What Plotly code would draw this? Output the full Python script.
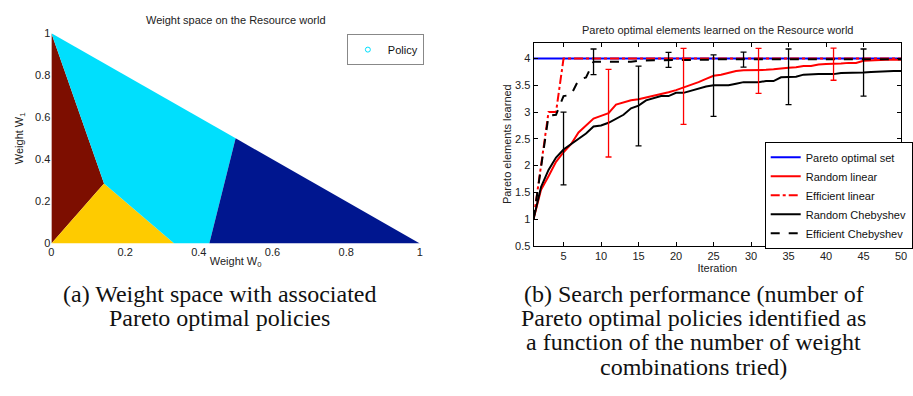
import plotly.graph_objects as go

W, H = 913, 396

# ---- Left panel: weight-space regions (polygons) ----
region_x = [
    [0, 0, 1/7],
    [0, 1/7, 1/3],
    [0, 1/7, 1/3, 3/7, 0.5],
    [3/7, 0.5, 1],
]
region_y = [
    [0, 1, 2/7],
    [0, 2/7, 0],
    [1, 2/7, 0, 0, 0.5],
    [0, 0.5, 0],
]
region_colors = ["#7d0e00", "#fecb00", "#00dffd", "#00168f"]

# ---- Right panel: search performance ----
iters = list(range(1, 51))
pareto_set = [4.0] * 50
random_linear = [1.0, 1.55, 1.80, 2.07, 2.25, 2.40, 2.62, 2.75, 2.88, 2.93,
                 2.98, 3.14, 3.18, 3.22, 3.24, 3.27, 3.30, 3.33, 3.37, 3.41,
                 3.46, 3.50, 3.56, 3.62, 3.68, 3.70, 3.73, 3.77, 3.78, 3.78,
                 3.78, 3.79, 3.80, 3.82, 3.83, 3.84, 3.86, 3.86, 3.89, 3.90,
                 3.90, 3.91, 3.92, 3.92, 3.96, 3.97, 3.98, 3.98, 3.98, 3.98]
efficient_linear = [1.0, 2.05, 3.0, 3.0, 4.0] + [4.0] * 45
random_cheb = [1.0, 1.60, 1.92, 2.15, 2.30, 2.40, 2.50, 2.60, 2.73, 2.75,
               2.80, 2.87, 2.95, 3.07, 3.12, 3.22, 3.26, 3.30, 3.30, 3.36,
               3.36, 3.40, 3.45, 3.48, 3.50, 3.50, 3.50, 3.53, 3.56, 3.56,
               3.56, 3.58, 3.58, 3.65, 3.65, 3.66, 3.70, 3.71, 3.71, 3.71,
               3.71, 3.73, 3.73, 3.74, 3.74, 3.75, 3.76, 3.77, 3.77, 3.77]
efficient_cheb = [1.0, 2.0, 2.93, 2.95, 3.30, 3.32, 3.60, 3.65, 3.94, 3.94,
                  3.94, 3.94, 3.94, 3.94, 3.96, 3.97, 3.97, 3.97, 3.97, 3.97,
                  3.97, 3.97, 3.98, 3.98, 3.98, 3.99, 3.99, 3.99, 3.99, 3.99] + [3.99] * 20

# error bars (iteration, center, half-width)
rl_err_x = [11, 21, 31, 41]
rl_err_c = [2.98, 3.48, 3.77, 3.895]
rl_err_h = [0.82, 0.71, 0.42, 0.30]
rc_err_x = [5, 15, 25, 35, 45]
rc_err_c = [2.32, 3.115, 3.495, 3.66, 3.74]
rc_err_h = [0.68, 0.745, 0.575, 0.52, 0.44]
ec_err_x = [9, 19, 29]
ec_err_c = [3.94, 3.975, 3.98]
ec_err_h = [0.24, 0.14, 0.14]

caption_a = ["(a) Weight space with associated", "Pareto optimal policies"]
caption_b = ["(b) Search performance (number of", "Pareto optimal policies identified as",
             "a function of the number of weight", "combinations tried)"]

FONT = "Liberation Sans, Arial, Helvetica, sans-serif"
SERIF = "Liberation Serif, Times New Roman, serif"

fig = go.Figure()

for xs, ys, c in zip(region_x, region_y, region_colors):
    fig.add_trace(go.Scatter(x=xs, y=ys, fill="toself", fillcolor=c, mode="lines",
                             line=dict(width=0, color=c), showlegend=False,
                             hoverinfo="skip", xaxis="x", yaxis="y"))
fig.add_trace(go.Scatter(x=[None], y=[None], mode="markers", name="Policy",
                         marker=dict(symbol="circle-open", size=5, color="#00dffd"),
                         legend="legend2", xaxis="x", yaxis="y"))

fig.add_trace(go.Scatter(x=iters, y=pareto_set, mode="lines", name="Pareto optimal set",
                         line=dict(color="#0000ff", width=2), xaxis="x2", yaxis="y2"))
fig.add_trace(go.Scatter(x=iters, y=random_linear, mode="lines", name="Random linear",
                         line=dict(color="#ff0000", width=2), xaxis="x2", yaxis="y2"))
fig.add_trace(go.Scatter(x=iters, y=efficient_linear, mode="lines", name="Efficient linear",
                         line=dict(color="#ff0000", width=2, dash="dashdot"), xaxis="x2", yaxis="y2"))
fig.add_trace(go.Scatter(x=iters, y=random_cheb, mode="lines", name="Random Chebyshev",
                         line=dict(color="#000000", width=2), xaxis="x2", yaxis="y2"))
fig.add_trace(go.Scatter(x=iters, y=efficient_cheb, mode="lines", name="Efficient Chebyshev",
                         line=dict(color="#000000", width=2, dash="dash"), xaxis="x2", yaxis="y2"))

for ex, ec, eh, col in [(rl_err_x, rl_err_c, rl_err_h, "#ff0000"),
                        (rc_err_x, rc_err_c, rc_err_h, "#000000"),
                        (ec_err_x, ec_err_c, ec_err_h, "#000000")]:
    fig.add_trace(go.Scatter(x=ex, y=ec, mode="markers", marker=dict(size=1, color=col, opacity=0),
                             error_y=dict(type="data", array=eh, color=col, thickness=1.3, width=3),
                             showlegend=False, hoverinfo="skip", xaxis="x2", yaxis="y2"))

tickfont = dict(family=FONT, size=11, color="#222")

annotations = [
    dict(text="Weight space on the Resource world", x=236/W, y=1-14/H, xref="paper", yref="paper",
         showarrow=False, font=dict(family=FONT, size=11, color="#222"), xanchor="center", yanchor="middle"),
    dict(text="Pareto optimal elements learned on the Resource world", x=723/W, y=1-25/H,
         xref="paper", yref="paper", showarrow=False,
         font=dict(family=FONT, size=11, color="#222"), xanchor="center", yanchor="middle"),
]
line_y = [297, 322, 347, 372]
for i, t in enumerate(caption_a):
    annotations.append(dict(text=t, x=219.5/W, y=1-line_y[i]/H, xref="paper", yref="paper",
                            showarrow=False, font=dict(family=SERIF, size=24, color="#111"),
                            xanchor="center", yanchor="middle"))
for i, t in enumerate(caption_b):
    annotations.append(dict(text=t, x=699/W, y=1-line_y[i]/H, xref="paper", yref="paper",
                            showarrow=False, font=dict(family=SERIF, size=24, color="#111"),
                            xanchor="center", yanchor="middle"))

fig.update_layout(
    width=W, height=H, margin=dict(l=0, r=0, t=0, b=0),
    paper_bgcolor="white", plot_bgcolor="white",
    font=dict(family=FONT, size=11, color="#222"),
    xaxis=dict(domain=[49/W, 422/W], range=[0, 1], anchor="y",
               tickvals=[0, 0.2, 0.4, 0.6, 0.8, 1],
               ticktext=["0", "0.2", "0.4", "0.6", "0.8", "1"], showgrid=False, zeroline=False,
               showline=False, ticks="", tickfont=tickfont,
               title=dict(text="Weight W<sub>0</sub>", font=dict(family=FONT, size=11), standoff=0)),
    yaxis=dict(domain=[1-245/H, 1-28/H], range=[0, 1], anchor="x",
               tickvals=[0, 0.2, 0.4, 0.6, 0.8, 1],
               ticktext=["0", "0.2", "0.4", "0.6", "0.8", "1"], showgrid=False, zeroline=False,
               showline=False, ticks="", tickfont=tickfont,
               title=dict(text="Weight W<sub>1</sub>", font=dict(family=FONT, size=11), standoff=9)),
    xaxis2=dict(domain=[537/W, 909/W], range=[1, 50], anchor="y2",
                tickvals=[5, 10, 15, 20, 25, 30, 35, 40, 45, 50],
                showgrid=False, zeroline=False, showline=True, linecolor="black", linewidth=1,
                mirror="allticks", ticks="inside", ticklen=4, tickcolor="black", tickfont=tickfont,
                title=dict(text="Iteration", font=dict(family=FONT, size=11), standoff=0)),
    yaxis2=dict(domain=[1-247.3/H, 1-37.7/H], range=[0.5, 4.3], anchor="x2",
                tickvals=[0.5, 1, 1.5, 2, 2.5, 3, 3.5, 4],
                ticktext=["0.5", "1", "1.5", "2", "2.5", "3", "3.5", "4"],
                showgrid=False, zeroline=False, showline=True, linecolor="black", linewidth=1,
                mirror="allticks", ticks="inside", ticklen=4, tickcolor="black", tickfont=tickfont,
                title=dict(text="Pareto elements learned", font=dict(family=FONT, size=11), standoff=1)),
    legend=dict(x=771/W, y=1-140/H, xanchor="left", yanchor="top", bgcolor="white",
                bordercolor="black", borderwidth=1, font=dict(family=FONT, size=11, color="#111"),
                tracegroupgap=0, itemwidth=30),
    legend2=dict(x=426/W, y=1-29/H, xanchor="right", yanchor="top", bgcolor="white",
                 bordercolor="#888", borderwidth=1, font=dict(family=FONT, size=11, color="#111"),
                 itemwidth=30),
    annotations=annotations,
)

fig.write_html("out.html")
